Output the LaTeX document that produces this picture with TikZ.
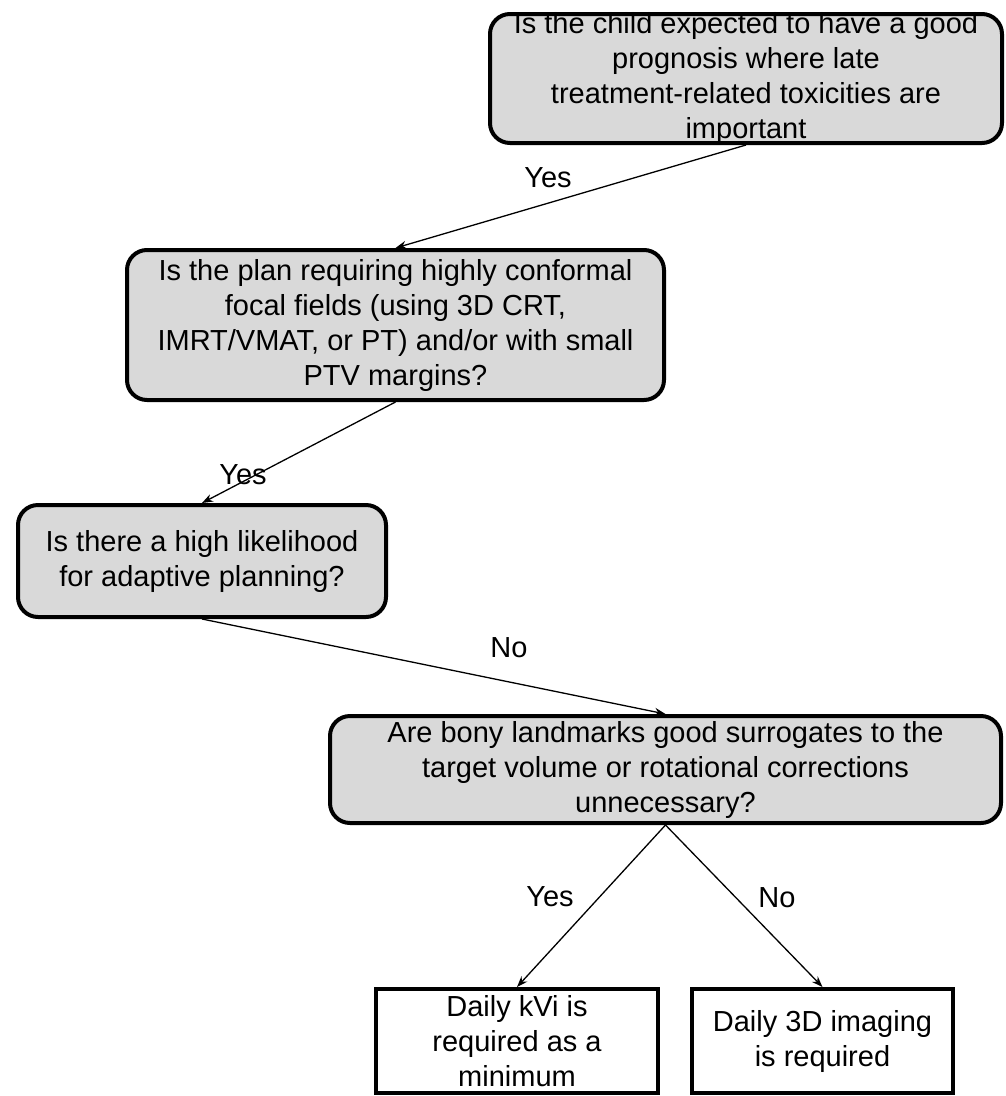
\documentclass[tikz,border=0pt]{standalone}
\usepackage{fontspec}
\setmainfont{Liberation Sans}
\usetikzlibrary{arrows.meta}
\definecolor{boxgray}{HTML}{D9D9D9}
\begin{document}
\begin{tikzpicture}[x=1pt,y=-1pt,
  qbox/.style={draw=black, line width=4pt, fill=boxgray, rounded corners=20pt, inner sep=0pt, align=center, font=\fontsize{29}{35}\selectfont},
  abox/.style={draw=black, line width=4pt, fill=white, inner sep=0pt, align=center, font=\fontsize{29}{35}\selectfont},
  txt/.style={inner sep=0pt, align=center, font=\fontsize{29}{35}\selectfont},
  conn/.style={line width=1.3pt, -{Stealth[length=11pt,width=8pt]}},
  lbl/.style={inner sep=0pt, font=\fontsize{29}{35}\selectfont}]
\useasboundingbox (0,0) rectangle (1005,1096);

\node[qbox, minimum width=512pt, minimum height=129pt] (b1) at (746,78.5) {};
\node[txt] (t1) at (b1.center) {Is the child expected to have a good\\prognosis where late\\treatment-related toxicities are\\important};

\node[qbox, minimum width=537pt, minimum height=150pt] (b2) at (395.5,325)
  {Is the plan requiring highly conformal\\focal fields (using 3D CRT,\\IMRT/VMAT, or PT) and/or with small\\PTV margins?};

\node[qbox, minimum width=368pt, minimum height=112pt] (b3) at (202,561)
  {Is there a high likelihood\\for adaptive planning?};

\node[qbox, minimum width=671pt, minimum height=107pt] (b4) at (665.5,769.5)
  {Are bony landmarks good surrogates to the\\target volume or rotational corrections\\unnecessary?};

\node[abox, minimum width=282pt, minimum height=104pt] (b5) at (517,1041)
  {Daily kVi is\\required as a\\minimum};

\node[abox, minimum width=261pt, minimum height=104pt] (b6) at (822.5,1041)
  {Daily 3D imaging\\is required};

\draw[conn] (b1.south) -- (b2.north);
\draw[conn] (b2.south) -- (b3.north);
\draw[conn] (b3.south) -- (b4.north);
\draw[conn] (b4.south) -- (b5.north);
\draw[conn] (b4.south) -- (b6.north);

\node[lbl] (l1) at (548,178) {Yes};
\node[lbl] (l2) at (243,475) {Yes};
\node[lbl] (l3) at (509,648) {No};
\node[lbl] (l4) at (550,897) {Yes};
\node[lbl] (l5) at (777,898) {No};
\end{tikzpicture}
\end{document}
